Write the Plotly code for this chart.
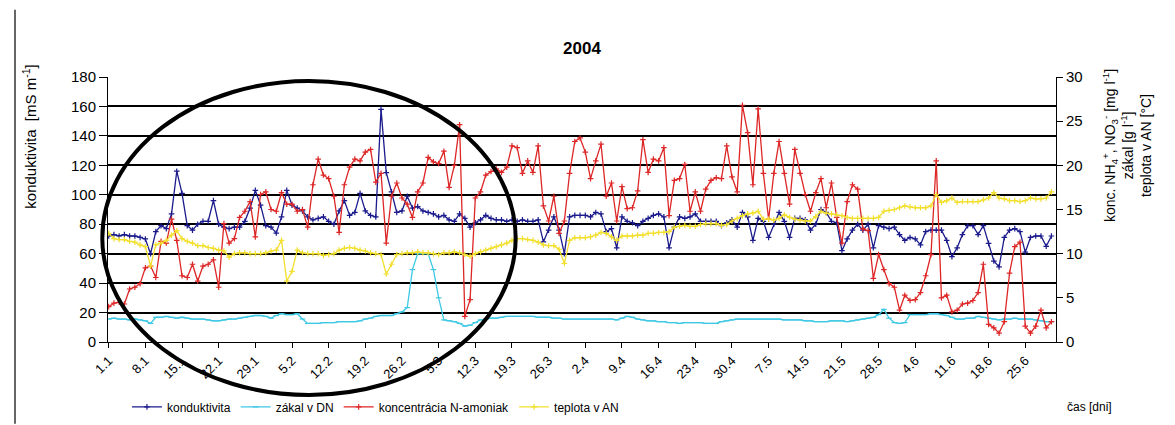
import plotly.graph_objects as go

# ---- data ----
konduktivita = [72, 73, 72, 73, 72, 72, 71, 70, 60, 75, 79, 77, 87, 116, 101, 79, 76, 80, 82, 82,
                96, 80, 78, 77, 78, 78, 82, 91, 103, 93, 79, 78, 74, 85, 103, 93, 91, 89, 85, 83,
                84, 85, 82, 80, 89, 96, 86, 88, 101, 89, 86, 85, 158, 115, 102, 88, 89, 99, 91, 92,
                89, 88, 87, 85, 86, 83, 82, 87, 84, 78, 81, 83, 86, 84, 83, 83, 82, 83, 82, 83,
                82, 82, 83, 68, 76, 85, 76, 60, 85, 86, 86, 86, 85, 88, 87, 75, 77, 64, 85, 82,
                81, 79, 82, 84, 86, 87, 85, 64, 78, 85, 84, 85, 87, 82, 82, 82, 82, 79, 81, 83,
                78, 88, 85, 69, 84, 82, 71, 80, 88, 82, 71, 84, 84, 83, 76, 80, 90, 88, 82, 81,
                62, 70, 76, 80, 76, 80, 64, 79, 78, 77, 78, 73, 69, 71, 70, 66, 75, 76, 76, 76,
                69, 58, 64, 73, 79, 79, 73, 79, 67, 55, 51, 71, 76, 77, 75, 61, 71, 72, 72, 65,
                72]

zakal = [2.6, 2.7, 2.6, 2.6, 2.5, 2.6, 2.5, 2.4, 2.1, 2.8, 2.8, 2.9, 2.8, 2.7, 2.8, 2.7, 2.6, 2.6, 2.6, 2.5,
         2.4, 2.4, 2.5, 2.6, 2.6, 2.7, 2.8, 2.9, 3.0, 3.0, 2.9, 2.7, 3.0, 3.2, 3.1, 3.1, 3.2, 2.6, 2.1, 2.1,
         2.1, 2.2, 2.2, 2.2, 2.3, 2.3, 2.3, 2.3, 2.4, 2.6, 2.7, 2.9, 3.0, 3.0, 3.0, 3.2, 3.4, 3.9, 8.2, 10.0,
         10.0, 10.0, 8.2, 5.0, 2.5, 2.4, 2.3, 2.1, 1.8, 1.9, 2.2, 2.5, 2.6, 2.7, 2.7, 2.8, 2.9, 2.9, 2.9, 2.9,
         2.9, 2.9, 2.8, 2.8, 2.8, 2.7, 2.7, 2.6, 2.6, 2.6, 2.6, 2.6, 2.6, 2.6, 2.6, 2.6, 2.6, 2.5, 2.7, 2.9,
         2.8, 2.6, 2.5, 2.4, 2.4, 2.3, 2.3, 2.2, 2.2, 2.1, 2.2, 2.2, 2.2, 2.2, 2.1, 2.1, 2.1, 2.3, 2.4, 2.5,
         2.6, 2.6, 2.6, 2.6, 2.6, 2.6, 2.6, 2.6, 2.6, 2.5, 2.5, 2.5, 2.5, 2.4, 2.4, 2.3, 2.3, 2.3, 2.4, 2.4,
         2.4, 2.3, 2.4, 2.5, 2.6, 2.7, 2.8, 3.1, 3.7, 2.7, 2.2, 2.1, 2.2, 3.1, 3.1, 3.1, 3.1, 3.2, 3.2, 3.1,
         3.0, 2.8, 2.6, 2.6, 2.7, 2.7, 2.9, 2.8, 2.7, 2.6, 2.5, 2.6, 2.6, 2.7, 2.6, 2.6, 2.6, 2.5, 2.4, 2.3,
         2.3]

amoniak = [4.0, 4.4, 4.5, 4.3, 6.0, 6.2, 6.6, 8.4, 8.6, 7.3, 11.4, 11.2, 13.9, 11.5, 7.5, 7.3, 8.8, 6.9, 8.6, 8.8,
           9.3, 6.2, 13.4, 11.2, 11.7, 14.1, 14.8, 15.9, 11.9, 16.7, 17.0, 15.0, 14.8, 16.9, 15.6, 15.6, 14.8, 15.0, 13.0, 17.8,
           20.7, 18.9, 18.5, 16.5, 12.4, 17.8, 19.8, 20.7, 20.5, 21.5, 21.8, 18.1, 19.1, 11.2, 16.5, 18.0, 16.3, 15.6, 14.1, 17.0,
           18.0, 20.9, 20.4, 20.2, 21.6, 17.5, 20.0, 24.6, 2.9, 4.8, 16.3, 17.0, 18.9, 19.3, 19.6, 19.2, 19.8, 22.2, 22.0, 19.1,
           20.5, 19.2, 22.2, 15.4, 13.7, 16.5, 12.3, 13.7, 19.1, 22.7, 23.1, 21.5, 18.5, 20.5, 22.4, 16.5, 18.0, 13.7, 17.6, 15.1,
           15.2, 17.1, 22.9, 19.2, 20.7, 20.5, 22.0, 14.3, 18.3, 18.5, 20.1, 14.8, 17.0, 14.8, 17.3, 18.3, 18.6, 18.5, 22.2, 18.7,
           17.0, 26.8, 23.7, 17.8, 26.4, 19.1, 13.9, 19.1, 22.7, 19.1, 15.6, 21.8, 19.1, 16.7, 14.8, 16.9, 18.5, 15.2, 18.0, 14.1,
           11.2, 15.9, 17.8, 17.3, 12.8, 12.6, 7.2, 9.9, 8.2, 6.6, 6.2, 3.6, 5.3, 4.7, 4.8, 5.6, 7.5, 9.9, 20.5, 5.0,
           5.3, 3.4, 3.6, 4.3, 4.4, 4.7, 5.6, 8.8, 2.0, 1.6, 1.0, 2.3, 7.8, 10.8, 11.3, 1.8, 1.0, 1.8, 3.6, 1.6,
           2.3]

teplota = [12.3, 11.7, 11.6, 11.6, 11.4, 11.3, 11.0, 10.8, 8.6, 11.0, 11.2, 11.5, 12.1, 12.6, 11.7, 11.4, 11.2, 10.9, 10.9, 10.7,
           10.6, 10.4, 10.3, 9.6, 10.0, 10.1, 10.1, 10.0, 10.0, 10.0, 10.1, 10.3, 10.4, 11.5, 6.9, 8.0, 10.4, 10.1, 10.0, 10.0,
           10.0, 9.8, 9.9, 10.0, 10.4, 10.6, 10.7, 10.6, 10.4, 10.3, 10.1, 10.0, 9.9, 7.7, 8.8, 9.9, 10.0, 10.1, 10.1, 10.2,
           10.1, 10.1, 10.0, 9.9, 10.1, 10.1, 10.2, 10.1, 9.9, 9.7, 10.0, 10.2, 10.4, 10.6, 10.8, 11.0, 11.2, 11.5, 11.7, 11.7,
           11.6, 11.5, 11.3, 11.0, 10.9, 10.9, 10.5, 8.9, 11.5, 11.8, 11.8, 11.8, 11.9, 12.1, 12.4, 12.3, 11.9, 11.5, 12.0, 12.0,
           12.0, 12.1, 12.1, 12.3, 12.3, 12.4, 12.4, 12.5, 13.0, 13.1, 13.2, 13.1, 13.1, 13.3, 13.4, 13.4, 13.4, 13.2, 13.3, 13.7,
           14.0, 14.3, 14.5, 14.6, 14.8, 13.9, 13.9, 13.8, 14.0, 14.4, 14.1, 13.9, 13.8, 13.7, 13.7, 14.2, 14.8, 14.6, 14.5, 14.4,
           14.3, 14.1, 14.0, 14.0, 14.0, 14.0, 14.0, 14.1, 14.8, 14.9, 15.0, 15.2, 15.4, 15.3, 15.2, 15.2, 15.2, 15.4, 16.7, 15.8,
           16.0, 16.3, 15.8, 15.9, 15.9, 15.9, 15.9, 16.1, 16.3, 16.9, 16.3, 16.2, 16.0, 16.0, 15.9, 16.0, 16.3, 16.2, 16.2, 16.3,
           17.0]

tick_labels = ['1.1', '8.1', '15.1', '22.1', '29.1', '5.2', '12.2', '19.2', '26.2', '5.3', '12.3', '19.3',
               '26.3', '2.4', '9.4', '16.4', '23.4', '30.4', '7.5', '14.5', '21.5', '28.5', '4.6', '11.6',
               '18.6', '25.6']

day = list(range(len(konduktivita)))
tick_vals = day[::7][:len(tick_labels)]

FONT = "Liberation Sans, Arial, sans-serif"


def series(y, name, color, symbol, axis):
    return go.Scatter(
        x=day, y=y, name=name, mode="lines+markers",
        line=dict(color=color, width=1.3),
        marker=dict(symbol=symbol, size=4, color=color, line=dict(color=color, width=1.2)),
        yaxis=axis)


fig = go.Figure()
fig.add_trace(series(konduktivita, "konduktivita", "#1a1a8c", "cross-thin", "y"))
fig.add_trace(series(zakal, "zákal v DN", "#3ec8e4", "line-ew", "y2"))
fig.add_trace(series(amoniak, "koncentrácia N-amoniak", "#dd2626", "cross-thin", "y2"))
fig.add_trace(series(teplota, "teplota v AN", "#f2df2e", "cross-thin", "y2"))

fig.update_layout(
    width=1175, height=425,
    margin=dict(l=100, r=127, t=69, b=84),
    paper_bgcolor="white", plot_bgcolor="white",
    font=dict(family=FONT, size=12, color="black"),
    title=dict(text="<b>2004</b>", x=0.5, xref="paper", y=1 - 40 / 425, yanchor="middle",
               font=dict(family=FONT, size=17, color="black")),
    showlegend=True,
    legend=dict(orientation="h", x=0.02, xanchor="left", y=-0.245, yanchor="middle",
                font=dict(family=FONT, size=12), itemwidth=30, tracegroupgap=0,
                bgcolor="rgba(0,0,0,0)"),
    xaxis=dict(range=[-0.13, 180.87], tickvals=tick_vals, ticktext=tick_labels,
               tickangle=-45, ticks="outside", ticklen=5, tickcolor="black",
               showgrid=False, zeroline=False, showline=True, linecolor="black", linewidth=1,
               tickfont=dict(family=FONT, size=13)),
    yaxis=dict(range=[0, 180], dtick=20, ticks="outside", ticklen=8, tickcolor="black",
               showgrid=True, gridcolor="black", gridwidth=1.6, zeroline=False,
               showline=True, linecolor="black", linewidth=1,
               tickfont=dict(family=FONT, size=15)),
    yaxis2=dict(range=[0, 30], dtick=5, overlaying="y", side="right", ticks="outside",
                ticklen=6, tickcolor="black", showgrid=False, zeroline=False,
                showline=True, linecolor="black", linewidth=1,
                tickfont=dict(family=FONT, size=15)),
)

# axis titles and x-axis caption
fig.add_annotation(text="konduktivita  [mS m<sup>-1</sup>]", xref="paper", yref="paper",
                   x=-0.083, y=0.776, xanchor="center", yanchor="middle", textangle=-90,
                   showarrow=False, font=dict(family=FONT, size=15))
fig.add_annotation(text="konc. NH<sub>4</sub><sup>+</sup>, NO<sub>3</sub><sup>-</sup> [mg l<sup>-1</sup>]"
                        "<br>zákal [g l<sup>-1</sup>]<br>teplota v AN [°C]",
                   xref="paper", yref="paper", x=1.075, y=0.74, xanchor="center", yanchor="middle",
                   textangle=-90, showarrow=False, font=dict(family=FONT, size=14))
fig.add_annotation(text="čas [dni]", xref="paper", yref="paper", x=1.01, y=-0.245,
                   xanchor="left", yanchor="middle", showarrow=False,
                   font=dict(family=FONT, size=12))

# hand-drawn ellipse over the first part of the chart
fig.add_shape(type="circle", xref="paper", yref="paper",
              x0=-0.006, x1=0.43, y0=-0.2, y1=0.985,
              line=dict(color="black", width=4), layer="above")

# left frame edge of the sheet
fig.add_shape(type="line", xref="paper", yref="paper", x0=(7 - 100) / 948, x1=(7 - 100) / 948,
              y0=(341 - 425) / 272, y1=(341 - 0) / 272, line=dict(color="#333", width=1.5))

fig.write_html("out.html")
